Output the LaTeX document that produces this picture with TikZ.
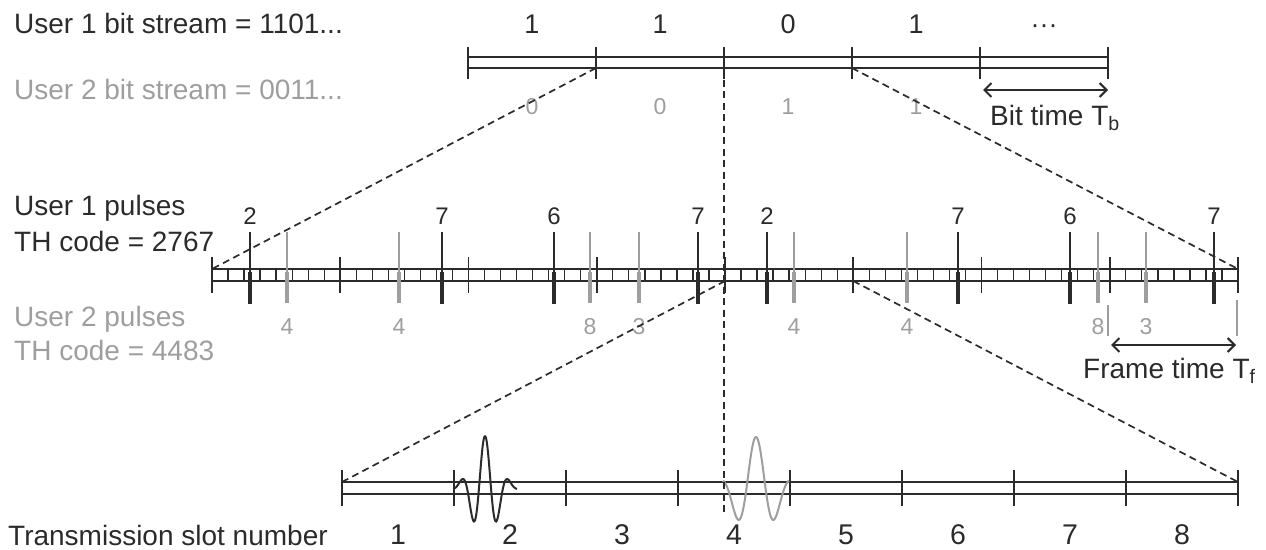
\documentclass[tikz,border=0pt]{standalone}
\usepackage{fontspec}
\setmainfont{Liberation Sans}
\usepackage{tikz}
\usetikzlibrary{arrows.meta,positioning,calc}
\definecolor{ink}{gray}{0.17}
\definecolor{inkg}{gray}{0.62}
\tikzset{
  lbl/.style    = {font=\fontsize{28}{31}\selectfont, text=ink, inner sep=0pt, anchor=base west},
  lblg/.style   = {lbl, text=inkg},
  num/.style    = {font=\fontsize{24}{27}\selectfont, text=ink, inner sep=0pt, anchor=base},
  numg/.style   = {num, text=inkg, font=\fontsize{23}{26}\selectfont},
  rail/.style   = {draw=ink, line width=1.7pt},
  tck/.style    = {draw=ink, line width=1.6pt},
  dsh/.style    = {draw=ink, line width=1.7pt, dash pattern=on 7pt off 4.5pt},
  dimarr/.style = {draw=ink, line width=2pt,
                   {Straight Barb[length=7pt,width=14pt]}-{Straight Barb[length=7pt,width=14pt]}},
  wave/.style   = {draw=ink, line width=2pt, smooth, samples=90},
}

\begin{document}
\begin{tikzpicture}[x=1pt,y=-1pt]
  \useasboundingbox (0,0) rectangle (1266,549);
  % left hand labels
  \node[lbl]  (u1bits) at (14,33)  {User 1 bit stream = 1101...};
  \node[lblg] (u2bits) at (14,99)  {User 2 bit stream = 0011...};
  \node[lbl]  (u1pul)  at (14,215) {User 1 pulses};
  \node[lbl]  (u1th)   at (14,251) {TH code = 2767};
  \node[lblg] (u2pul)  at (14,326) {User 2 pulses};
  \node[lblg] (u2th)   at (14,360) {TH code = 4483};
  \node[lbl]  (slotno) at (8,545)  {Transmission slot number};

  % bit level
  \draw[rail] (468,57) -- (1108,57) (468,68) -- (1108,68);
  \foreach \k in {0,...,5} {
    \draw[tck] ({468+128*\k},47) -- ({468+128*\k},79);
    \coordinate (b\k) at ({468+128*\k},68);
  }
  \foreach \b [count=\k from 0] in {1,1,0,1,···}
    \node[num, font=\fontsize{27}{30}\selectfont] (bit\k) at ({532+128*\k},33) {\b};
  \foreach \b [count=\k from 0] in {0,0,1,1}
    \node[numg] (gbit\k) at ({532+128*\k},114) {\b};
  \coordinate (bt0) at (983,90);
  \coordinate (bt1) at (1108,90);
  \draw[dimarr] (bt0) -- (bt1);
  \node[lbl] (btime) at (990,125) {Bit time T\textsubscript{b}};

  % frame level, 8 frames of 8 slots
  \draw[rail] (212,269) -- (1238,269) (212,281) -- (1238,281);
  \foreach \j in {1,...,63}
    \draw[tck, line width=1.3pt] ({212+16.03125*\j},269) -- ({212+16.03125*\j},281);
  \foreach \k in {0,...,8} {
    \draw[tck] ({212+128.25*\k},257) -- ({212+128.25*\k},293);
    \coordinate (f\k) at ({212+128.25*\k},281);
  }
  % user 2 pulses
  \foreach \px/\c [count=\k] in {287/4,399/4,590/8,639/3,794/4,907/4,1098/8,1146/3} {
    \draw[inkg, line width=2.2pt] (\px,232) -- (\px,303);
    \draw[inkg, line width=4.5pt] (\px,272) -- (\px,303);
    \node[numg] (q\k) at (\px,334) {\c};
  }
  % user 1 pulses
  \foreach \px/\c [count=\k] in {250/2,442/7,554/6,698/7,767/2,958/7,1070/6,1214/7} {
    \draw[ink, line width=2.2pt] (\px,232) -- (\px,304);
    \draw[ink, line width=4.5pt] (\px,272) -- (\px,304);
    \node[num] (p\k) at (\px,224) {\c};
  }
  \draw[inkg, line width=1.6pt] (1108,305) -- (1108,336) (1237,300) -- (1237,336);
  \coordinate (ft0) at (1111,345);
  \coordinate (ft1) at (1236,345);
  \draw[dimarr] (ft0) -- (ft1);
  \node[lbl] (ftime) at (1083,378) {Frame time T\textsubscript{f}};

  % slot level
  \draw[rail] (342,482) -- (1238,482) (342,494) -- (1238,494);
  \foreach \k in {0,...,8}
    \draw[tck] ({342+112*\k},470) -- ({342+112*\k},506);
  \foreach \k in {1,...,8}
    \node[num, font=\fontsize{28.5}{31}\selectfont] (s\k) at ({286+112*\k},544) {\k};
  \draw[wave] plot[domain=-32:32] ({485+\x},{488-52*cos(deg(pi*\x/12))*exp(-(\x*\x)/300)});
  \draw[wave, draw=inkg] plot[domain=-33:33] ({756+\x},{488-51*cos(deg(pi*\x/19))*exp(-(\x*\x)/700)});

  % zoom guides
  \coordinate (mL) at (212,269);
  \coordinate (mR) at (1238,269);
  \coordinate (sL) at (342,482);
  \coordinate (sR) at (1238,482);
  \coordinate (vb) at (724,516);
  \draw[dsh] (b1) -- (mL);
  \draw[dsh] (b3) -- (mR);
  \draw[dsh] (b2) -- (vb);
  \draw[dsh] (f4) -- (sL);
  \draw[dsh] (f5) -- (sR);
\end{tikzpicture}
\end{document}
